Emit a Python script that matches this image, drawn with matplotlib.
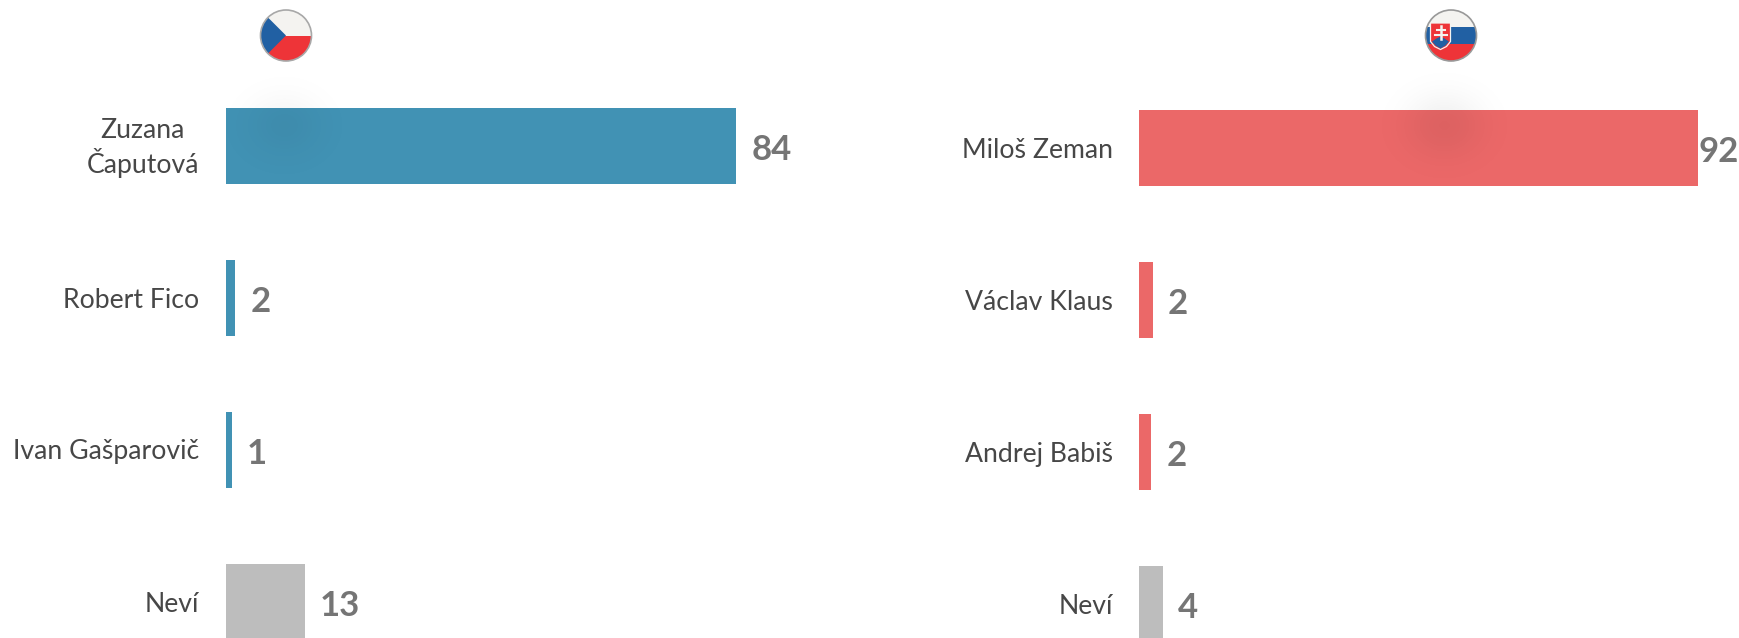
import numpy as np
import matplotlib
matplotlib.use("Agg")
import matplotlib.pyplot as plt
from matplotlib.patches import Circle, Polygon, Rectangle
from matplotlib.transforms import ScaledTranslation

W, H = 1739, 638
plt.rcParams['font.family'] = ['Lato', 'DejaVu Sans']

names_cz = ["Zuzana\nČaputová", "Robert Fico", "Ivan Gašparovič", "Neví"]
labels_cz = [84, 2, 1, 13]          # printed labels (rounded)
values_cz = [84, 1.6, 1, 13]        # bar lengths
names_sk = ["Miloš Zeman", "Václav Klaus", "Andrej Babiš", "Neví"]
labels_sk = [92, 2, 2, 4]
values_sk = [92, 2.3, 2, 4.0]

BLUE, RED, GREY = "#4192B4", "#EB6868", "#BDBDBD"
colors_cz = [BLUE, BLUE, BLUE, GREY]
colors_sk = [RED, RED, RED, GREY]

fig = plt.figure(figsize=(W/100, H/100), dpi=100)

def panel(x0, x1, top_center, names, values, labels, colors):
    spacing, scale = 152.0, 6.08
    ax = fig.add_axes([x0/W, 0, (x1-x0)/W, 1])
    ax.set_xlim(0, (x1-x0)/scale)
    ax.set_ylim((H-top_center)/spacing, -top_center/spacing)
    pos = np.arange(len(values))
    ax.barh(pos, values, height=0.5, color=colors, linewidth=0)
    ax.set_yticks(pos, names, fontsize=19.2, color="#474747", linespacing=1.22)
    ax.tick_params(axis='y', length=0, pad=19)
    ax.set_xticks([])
    for s in ax.spines.values():
        s.set_visible(False)
    ax.patch.set_alpha(0)
    for lab in ax.get_yticklabels():
        if "\n" in lab.get_text():
            lab.set_multialignment('center')
            lab.set_transform(lab.get_transform() + ScaledTranslation(0, 3/100, fig.dpi_scale_trans))
    for p, v, l in zip(pos, values, labels):
        gap = 0 if v > 90 else 15      # the largest label hugs the bar to stay inside the frame
        ax.annotate(str(l), (v, p), xytext=(gap, -1), textcoords='offset pixels',
                    va='center_baseline', ha='left', fontsize=25, fontweight='bold', color="#757575",
                    annotation_clip=False)
    return ax

panel(225.5, 860, 145.5, names_cz, values_cz, labels_cz, colors_cz)
panel(1139, 1739, 148, names_sk, values_sk, labels_sk, colors_sk)

ov = fig.add_axes([0, 0, 1, 1])
ov.set_xlim(0, W); ov.set_ylim(H, 0); ov.axis('off'); ov.patch.set_alpha(0)

def shadow(cx, peak, cy=125):
    half, top, bottom = 75, 70, 180
    X, Y = np.meshgrid(np.arange(cx-half, cx+half), np.arange(top, bottom))
    a = np.exp(-((X-cx)/38.0)**2) * np.exp(-((Y-cy)/32.0)**2) * peak
    img = np.zeros(a.shape + (4,)); img[..., 3] = a
    ov.imshow(img, extent=(cx-half, cx+half, bottom, top), aspect='auto', zorder=1, interpolation='bilinear')
    ov.set_xlim(0, W); ov.set_ylim(H, 0)

shadow(284, 0.04)
shadow(1444, 0.06)

def flag_cz(cx, cy, r):
    c = Circle((cx, cy), r, transform=ov.transData)
    for art in [ov.add_patch(Rectangle((cx-r, cy-r), 2*r, r, fc="#F4F3F0", lw=0, zorder=3)),
                ov.add_patch(Rectangle((cx-r, cy), 2*r, r, fc="#EE3438", lw=0, zorder=3)),
                ov.add_patch(Polygon([(cx-r, cy-r), (cx, cy), (cx-r, cy+r)], fc="#2160A3", lw=0, zorder=4))]:
        art.set_clip_path(c)
    ov.add_patch(Circle((cx, cy), r, fc='none', ec="#A8A8A8", lw=1.2, zorder=5))

def flag_sk(cx, cy, r):
    c = Circle((cx, cy), r, transform=ov.transData)
    t = 2*r/3
    arts = [ov.add_patch(Rectangle((cx-r, cy-r), 2*r, t, fc="#F4F3F0", lw=0, zorder=3)),
            ov.add_patch(Rectangle((cx-r, cy-r+t), 2*r, t, fc="#2160A3", lw=0, zorder=3)),
            ov.add_patch(Rectangle((cx-r, cy-r+2*t), 2*r, t, fc="#EE3438", lw=0, zorder=3))]
    for a in arts:
        a.set_clip_path(c)
    sx = cx-10.5
    ov.add_patch(Polygon([(sx-10, cy-12.5), (sx+10, cy-12.5), (sx+10, cy+6), (sx+6, cy+11), (sx, cy+14),
                          (sx-6, cy+11), (sx-10, cy+6)], fc="#EE3438", ec="#F4F3F0", lw=0.9, zorder=4))
    ov.add_patch(Polygon([(sx-8.5, cy+6), (sx-4, cy+3), (sx, cy+1), (sx+4, cy+3), (sx+8.5, cy+6), (sx+5, cy+10),
                          (sx, cy+13), (sx-5, cy+10)], fc="#2160A3", lw=0, zorder=5))
    ov.plot([sx, sx], [cy-10, cy+3], color="#F4F3F0", lw=1.8, zorder=6)
    ov.plot([sx-4, sx+4], [cy-5.5, cy-5.5], color="#F4F3F0", lw=1.5, zorder=6)
    ov.plot([sx-6, sx+6], [cy-1, cy-1], color="#F4F3F0", lw=1.5, zorder=6)
    ov.add_patch(Circle((cx, cy), r, fc='none', ec="#999999", lw=1.2, zorder=7))

flag_cz(286, 35.5, 25.5)
flag_sk(1451, 35.5, 25.5)

fig.savefig("out.png", dpi=100, facecolor="white")
